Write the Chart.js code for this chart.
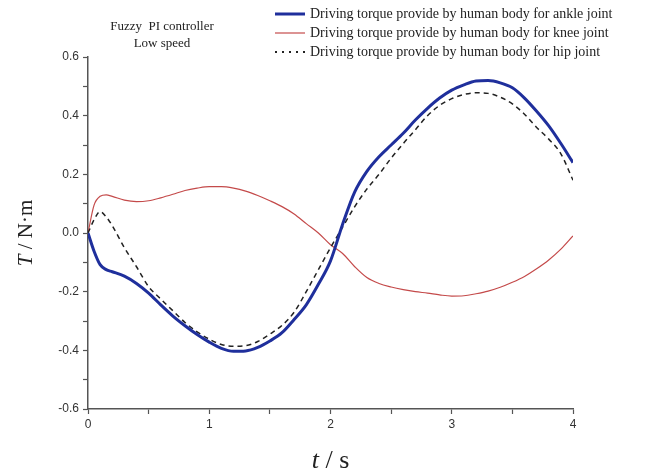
<!DOCTYPE html>
<html>
<head>
    <title>Driving torque - fuzzy PI, low speed</title>
    <script src="https://cdn.jsdelivr.net/npm/chart.js"></script>
    <style>
        body { margin: 0; background: #fff; }
    </style>
</head>
<body>
    <canvas id="torqueChart" width="651" height="475"></canvas>

    <script>
        // time samples (s)
        const timeS = [0, 0.05, 0.1, 0.15, 0.2, 0.3, 0.4, 0.5, 0.6, 0.7, 0.8, 0.9, 1.0,
            1.1, 1.2, 1.3, 1.4, 1.5, 1.6, 1.7, 1.8, 1.9, 2.0, 2.1, 2.2, 2.3, 2.4, 2.5,
            2.6, 2.7, 2.8, 2.9, 3.0, 3.1, 3.2, 3.3, 3.4, 3.5, 3.6, 3.7, 3.8, 3.9, 4.0];

        // torque (N·m)
        const ankleTorque = [0, -0.062, -0.108, -0.125, -0.132, -0.147, -0.172, -0.205, -0.245, -0.283,
            -0.316, -0.346, -0.372, -0.393, -0.403, -0.402, -0.39, -0.368, -0.34, -0.295,
            -0.245, -0.175, -0.095, 0.03, 0.14, 0.21, 0.26, 0.30, 0.34, 0.385, 0.425,
            0.46, 0.487, 0.505, 0.518, 0.52, 0.512, 0.495, 0.46, 0.415, 0.365, 0.305, 0.24];

        const kneeTorque = [0.0, 0.095, 0.125, 0.13, 0.125, 0.112, 0.107, 0.11, 0.12, 0.132,
            0.145, 0.153, 0.158, 0.158, 0.153, 0.143, 0.128, 0.11, 0.09, 0.065,
            0.032, 0.0, -0.04, -0.07, -0.115, -0.152, -0.172, -0.184, -0.193, -0.2, -0.205,
            -0.211, -0.215, -0.214, -0.207, -0.198, -0.185, -0.168, -0.148, -0.122, -0.092, -0.055, -0.01];

        const hipTorque = [0, 0.045, 0.073, 0.055, 0.025, -0.05, -0.115, -0.183, -0.225, -0.265,
            -0.305, -0.337, -0.362, -0.38, -0.386, -0.384, -0.37, -0.345, -0.315, -0.27,
            -0.2, -0.125, -0.05, 0.02, 0.09, 0.15, 0.20, 0.255, 0.305, 0.352, 0.40,
            0.435, 0.458, 0.472, 0.478, 0.476, 0.463, 0.44, 0.405, 0.36, 0.32, 0.27, 0.18];

        const seriesNames = [
            'Driving torque provide by human body for ankle joint',
            'Driving torque provide by human body for knee joint',
            'Driving torque provide by human body for hip joint'
        ];
        const noteLines = ['Fuzzy  PI controller', 'Low speed'];

        const axisColor = '#555';
        const toPoints = vals => vals.map((v, i) => ({ x: timeS[i], y: v }));

        // legend, note and axis titles drawn by hand
        const extras = {
            id: 'extras',
            afterDraw(chart) {
                const ctx = chart.ctx;
                const area = chart.chartArea;
                ctx.save();
                ctx.fillStyle = '#222';
                ctx.textBaseline = 'middle';

                // note
                ctx.font = '13px "Liberation Serif", serif';
                ctx.textAlign = 'center';
                ctx.fillText(noteLines[0], 162, 27);
                ctx.fillText(noteLines[1], 162, 44);

                // legend
                const rows = [14, 33, 52];
                chart.data.datasets.forEach((ds, i) => {
                    ctx.beginPath();
                    ctx.strokeStyle = ds.borderColor;
                    ctx.lineWidth = i === 2 ? 2 : ds.borderWidth;
                    ctx.setLineDash(i === 2 ? [2, 5] : []);
                    ctx.moveTo(275, rows[i]);
                    ctx.lineTo(305, rows[i]);
                    ctx.stroke();
                    ctx.setLineDash([]);
                    ctx.font = '14px "Liberation Serif", serif';
                    ctx.textAlign = 'left';
                    ctx.fillStyle = '#222';
                    ctx.fillText(seriesNames[i], 310, rows[i]);
                });

                // x title: t / s
                ctx.textBaseline = 'alphabetic';
                ctx.textAlign = 'left';
                const xc = (area.left + area.right) / 2;
                ctx.font = 'italic 26px "Liberation Serif", serif';
                const tW = ctx.measureText('t').width;
                ctx.font = '26px "Liberation Serif", serif';
                const rest = ' / s';
                const rW = ctx.measureText(rest).width;
                let x0 = xc - (tW + rW) / 2;
                ctx.font = 'italic 26px "Liberation Serif", serif';
                ctx.fillText('t', x0, 468);
                ctx.font = '26px "Liberation Serif", serif';
                ctx.fillText(rest, x0 + tW, 468);

                // y title: T / N·m
                ctx.translate(32, (area.top + area.bottom) / 2);
                ctx.rotate(-Math.PI / 2);
                ctx.font = 'italic 21px "Liberation Serif", serif';
                const TW = ctx.measureText('T').width;
                ctx.font = '21px "Liberation Serif", serif';
                const rest2 = ' / N\u00b7m';
                const R2 = ctx.measureText(rest2).width;
                x0 = -(TW + R2) / 2;
                ctx.font = 'italic 21px "Liberation Serif", serif';
                ctx.fillText('T', x0, 0);
                ctx.font = '21px "Liberation Serif", serif';
                ctx.fillText(rest2, x0 + TW, 0);
                ctx.restore();
            }
        };

        new Chart(document.getElementById('torqueChart'), {
            type: 'line',
            data: {
                datasets: [{
                    label: seriesNames[0],
                    data: toPoints(ankleTorque),
                    borderColor: '#1f2f9c',
                    borderWidth: 3,
                    pointRadius: 0,
                    cubicInterpolationMode: 'monotone',
                    order: 1
                }, {
                    label: seriesNames[1],
                    data: toPoints(kneeTorque),
                    borderColor: '#c44a4a',
                    borderWidth: 1.2,
                    pointRadius: 0,
                    cubicInterpolationMode: 'monotone',
                    order: 3
                }, {
                    label: seriesNames[2],
                    data: toPoints(hipTorque),
                    borderColor: '#222',
                    borderWidth: 1.5,
                    borderDash: [5, 4],
                    pointRadius: 0,
                    cubicInterpolationMode: 'monotone',
                    order: 2
                }]
            },
            options: {
                responsive: false,
                animation: false,
                layout: { padding: { top: 57, right: 78, left: 0, bottom: 0 } },
                plugins: { legend: { display: false }, tooltip: { enabled: false } },
                scales: {
                    x: {
                        type: 'linear',
                        min: 0,
                        max: 4,
                        afterFit: s => { s.height = 66; },
                        border: { color: axisColor, width: 1.5 },
                        grid: { drawOnChartArea: false, tickLength: 5, color: axisColor, tickWidth: 1.2 },
                        ticks: {
                            stepSize: 0.5,
                            padding: 3,
                            color: '#333',
                            font: { family: '"Liberation Sans", Arial, sans-serif', size: 12 },
                            callback: v => Number.isInteger(v) ? String(v) : ''
                        }
                    },
                    y: {
                        min: -0.6,
                        max: 0.6,
                        afterFit: s => { s.width = 88; },
                        border: { color: axisColor, width: 1.5 },
                        grid: { drawOnChartArea: false, tickLength: 5, color: axisColor, tickWidth: 1.2 },
                        ticks: {
                            stepSize: 0.1,
                            padding: 4,
                            color: '#333',
                            font: { family: '"Liberation Sans", Arial, sans-serif', size: 12 },
                            callback: v => {
                                const k = Math.round(v * 10);
                                return k % 2 === 0 ? (k / 10).toFixed(1) : '';
                            }
                        }
                    }
                }
            },
            plugins: [extras]
        });
    </script>
</body>
</html>
